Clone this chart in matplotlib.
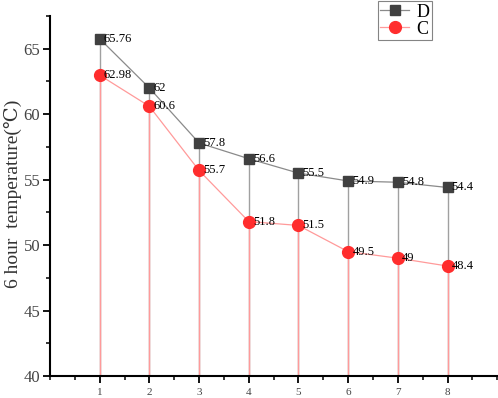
import matplotlib
matplotlib.use("Agg")
import matplotlib.pyplot as plt
from matplotlib.ticker import MultipleLocator

x = [1, 2, 3, 4, 5, 6, 7, 8]
d_vals = [65.76, 62, 57.8, 56.6, 55.5, 54.9, 54.8, 54.4]
c_vals = [62.98, 60.6, 55.7, 51.8, 51.5, 49.5, 49, 48.4]
d_labels = ["65.76", "62", "57.8", "56.6", "55.5", "54.9", "54.8", "54.4"]
c_labels = ["62.98", "60.6", "55.7", "51.8", "51.5", "49.5", "49", "48.4"]

plt.rcParams['font.family'] = ['Liberation Serif', 'DejaVu Serif']

fig = plt.figure(figsize=(4.98, 3.98), dpi=100)
ax = fig.add_axes([0.1004, 0.0553, 0.898, 0.9045])

ax.vlines(x, 40, d_vals, color='#a0a0a0', lw=1.0, zorder=1)
ax.vlines(x, 40, c_vals, color='#ff9a9a', lw=1.0, zorder=2)
ax.plot(x, d_vals, color='#8a8a8a', lw=0.9, marker='s', ms=7, mfc='#404040', mec='#404040', label='D', zorder=3)
ax.plot(x, c_vals, color='#ff9a9a', lw=0.9, marker='o', ms=8.5, mfc='#ff2d2d', mec='#ff2d2d', label='C', zorder=4)

for xi, v, t in zip(x, d_vals, d_labels):
    ax.annotate(t, (xi, v), xytext=(3, 0), textcoords='offset points', va='center', ha='left', fontsize=9, zorder=5)
for xi, v, t in zip(x, c_vals, c_labels):
    ax.annotate(t, (xi, v), xytext=(3, 0), textcoords='offset points', va='center', ha='left', fontsize=9, zorder=5)

ax.set_xlim(0, 9)
ax.set_ylim(40, 67.5)
ax.set_xticks(x)
ax.xaxis.set_minor_locator(MultipleLocator(0.5))
ax.yaxis.set_major_locator(MultipleLocator(5))
ax.yaxis.set_minor_locator(MultipleLocator(2.5))
ax.spines['top'].set_visible(False)
ax.spines['right'].set_visible(False)
ax.spines['left'].set_linewidth(1.5)
ax.spines['bottom'].set_linewidth(1.5)
ax.tick_params(axis='y', which='major', length=5, width=1.3, labelsize=12, pad=2)
ax.tick_params(axis='y', which='minor', length=3, width=1.1)
ax.tick_params(axis='x', which='major', length=5, width=1.3, labelsize=8, pad=4)
ax.tick_params(axis='x', which='minor', length=3, width=1.1)
ax.tick_params(colors='black', which='both', labelcolor='#444444')
fig.text(13 / 498, 0.512, '6 hour  temperature(℃)', rotation=90, ha='center', va='center',
         fontsize=14, color='#333333')

leg = ax.legend(loc='upper right', bbox_to_anchor=(0.8546, 1.0417), borderaxespad=0, fontsize=13,
                frameon=True, fancybox=False, edgecolor='#666666', handlelength=1.6,
                borderpad=0.15, labelspacing=0.0, handletextpad=0.4)
leg.get_frame().set_linewidth(0.8)

fig.savefig('out.png', dpi=100)
